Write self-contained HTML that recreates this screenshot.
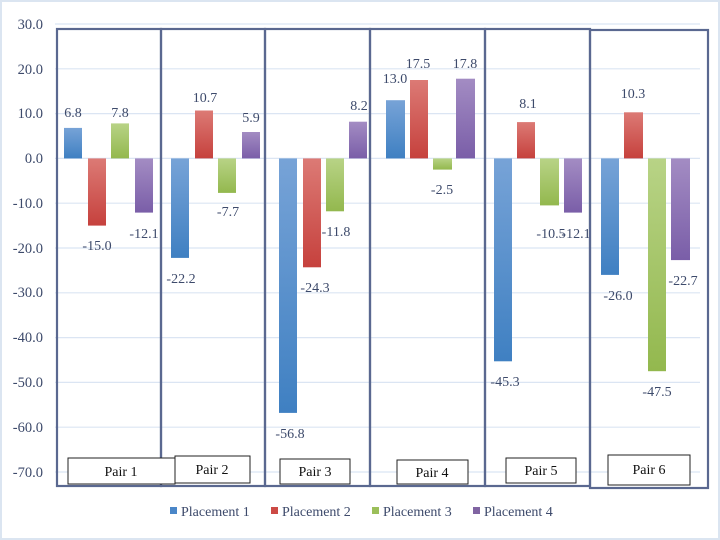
<!DOCTYPE html>
<html><head><meta charset="utf-8"><style>
html,body{margin:0;padding:0;background:#fff}
svg{display:block}
text{font-family:"Liberation Serif",serif;fill:#3d4a6b}
</style></head><body>
<svg width="720" height="540" viewBox="0 0 720 540" xmlns="http://www.w3.org/2000/svg">
<defs>
<linearGradient id="gb" x1="0" y1="0" x2="0" y2="1"><stop offset="0" stop-color="#77a3d7"/><stop offset="1" stop-color="#3f80c2"/></linearGradient>
<linearGradient id="gr" x1="0" y1="0" x2="0" y2="1"><stop offset="0" stop-color="#dc7a75"/><stop offset="1" stop-color="#c6413d"/></linearGradient>
<linearGradient id="gg" x1="0" y1="0" x2="0" y2="1"><stop offset="0" stop-color="#b8d386"/><stop offset="1" stop-color="#93b84e"/></linearGradient>
<linearGradient id="gp" x1="0" y1="0" x2="0" y2="1"><stop offset="0" stop-color="#a38cc3"/><stop offset="1" stop-color="#7a5ea8"/></linearGradient>
</defs>
<rect x="1" y="1" width="718" height="538" fill="#fff" stroke="#dbe5f1" stroke-width="2"/>
<g stroke="#dbe5f3" stroke-width="1.2">
<line x1="55" y1="24" x2="700" y2="24"/><line x1="55" y1="68.8" x2="700" y2="68.8"/><line x1="55" y1="113.6" x2="700" y2="113.6"/><line x1="55" y1="158.4" x2="700" y2="158.4"/><line x1="55" y1="203.2" x2="700" y2="203.2"/><line x1="55" y1="248" x2="700" y2="248"/><line x1="55" y1="292.8" x2="700" y2="292.8"/><line x1="55" y1="337.6" x2="700" y2="337.6"/><line x1="55" y1="382.4" x2="700" y2="382.4"/><line x1="55" y1="427.2" x2="700" y2="427.2"/><line x1="55" y1="472" x2="700" y2="472"/>
</g>
<g font-size="14.5" text-anchor="end">
<text x="43" y="29">30.0</text><text x="43" y="74">20.0</text><text x="43" y="118">10.0</text><text x="43" y="163">0.0</text><text x="43" y="208">-10.0</text><text x="43" y="253">-20.0</text><text x="43" y="297">-30.0</text><text x="43" y="342">-40.0</text><text x="43" y="387">-50.0</text><text x="43" y="432">-60.0</text><text x="43" y="477">-70.0</text>
</g>
<g>
<rect x="64" y="127.9" width="18" height="30.5" fill="url(#gb)"/>
<rect x="88" y="158.4" width="18" height="67.2" fill="url(#gr)"/>
<rect x="111" y="123.4" width="18" height="35" fill="url(#gg)"/>
<rect x="135" y="158.4" width="18" height="54.2" fill="url(#gp)"/>
<rect x="171" y="158.4" width="18" height="99.5" fill="url(#gb)"/>
<rect x="195" y="110.5" width="18" height="47.9" fill="url(#gr)"/>
<rect x="218" y="158.4" width="18" height="34.5" fill="url(#gg)"/>
<rect x="242" y="132" width="18" height="26.4" fill="url(#gp)"/>
<rect x="279" y="158.4" width="18" height="254.5" fill="url(#gb)"/>
<rect x="303" y="158.4" width="18" height="108.9" fill="url(#gr)"/>
<rect x="326" y="158.4" width="18" height="52.9" fill="url(#gg)"/>
<rect x="349" y="121.7" width="18" height="36.7" fill="url(#gp)"/>
<rect x="386" y="100.2" width="19" height="58.2" fill="url(#gb)"/>
<rect x="410" y="80" width="18" height="78.4" fill="url(#gr)"/>
<rect x="433" y="158.4" width="19" height="11.2" fill="url(#gg)"/>
<rect x="456" y="78.7" width="19" height="79.7" fill="url(#gp)"/>
<rect x="494" y="158.4" width="18" height="202.9" fill="url(#gb)"/>
<rect x="517" y="122.1" width="18" height="36.3" fill="url(#gr)"/>
<rect x="540" y="158.4" width="19" height="47" fill="url(#gg)"/>
<rect x="564" y="158.4" width="18" height="54.2" fill="url(#gp)"/>
<rect x="601" y="158.4" width="18" height="116.5" fill="url(#gb)"/>
<rect x="624" y="112.3" width="19" height="46.1" fill="url(#gr)"/>
<rect x="648" y="158.4" width="18" height="212.8" fill="url(#gg)"/>
<rect x="671" y="158.4" width="19" height="101.7" fill="url(#gp)"/>
</g>
<g font-size="14" text-anchor="middle">
<text x="73" y="117">6.8</text><text x="97" y="250">-15.0</text><text x="120" y="117">7.8</text><text x="144" y="238">-12.1</text>
<text x="181" y="283">-22.2</text><text x="205" y="102">10.7</text><text x="228" y="216">-7.7</text><text x="251" y="122">5.9</text>
<text x="290" y="438">-56.8</text><text x="315" y="292">-24.3</text><text x="336" y="236">-11.8</text><text x="359" y="110">8.2</text>
<text x="395" y="83">13.0</text><text x="418" y="68">17.5</text><text x="442" y="194">-2.5</text><text x="465" y="68">17.8</text>
<text x="505" y="386">-45.3</text><text x="528" y="108">8.1</text><text x="551" y="238">-10.5</text><text x="576" y="238">-12.1</text>
<text x="618" y="300">-26.0</text><text x="633" y="98">10.3</text><text x="657" y="396">-47.5</text><text x="683" y="285">-22.7</text>
</g>
<g fill="none" stroke="#5a6890" stroke-width="2.2">
<rect x="57" y="29" width="104" height="457"/>
<rect x="161" y="29" width="104" height="457"/>
<rect x="265" y="29" width="105" height="457"/>
<rect x="370" y="29" width="115" height="457"/>
<rect x="485" y="29" width="105" height="457"/>
<rect x="590" y="30" width="118" height="458"/>
</g>
<g fill="#fff" stroke="#222" stroke-width="1">
<rect x="68" y="458" width="107" height="26"/>
<rect x="175" y="456" width="75" height="27"/>
<rect x="280" y="459" width="70" height="25"/>
<rect x="397" y="460" width="71" height="24"/>
<rect x="506" y="458" width="70" height="25"/>
<rect x="608" y="455" width="82" height="30"/>
</g>
<g font-size="14" text-anchor="middle">
<text x="121" y="476" style="fill:#111">Pair 1</text><text x="212" y="474" style="fill:#111">Pair 2</text><text x="315" y="476" style="fill:#111">Pair 3</text><text x="432" y="477" style="fill:#111">Pair 4</text><text x="541" y="475" style="fill:#111">Pair 5</text><text x="649" y="474" style="fill:#111">Pair 6</text>
</g>
<rect x="170" y="507" width="7" height="7" fill="#4a86c8"/>
<rect x="271" y="507" width="7" height="7" fill="#cc4a45"/>
<rect x="372" y="507" width="7" height="7" fill="#9bbf5a"/>
<rect x="473" y="507" width="7" height="7" fill="#8064a2"/>
<g font-size="14">
<text x="181" y="516">Placement 1</text><text x="282" y="516">Placement 2</text><text x="383" y="516">Placement 3</text><text x="484" y="516">Placement 4</text>
</g>
</svg>
</body></html>
